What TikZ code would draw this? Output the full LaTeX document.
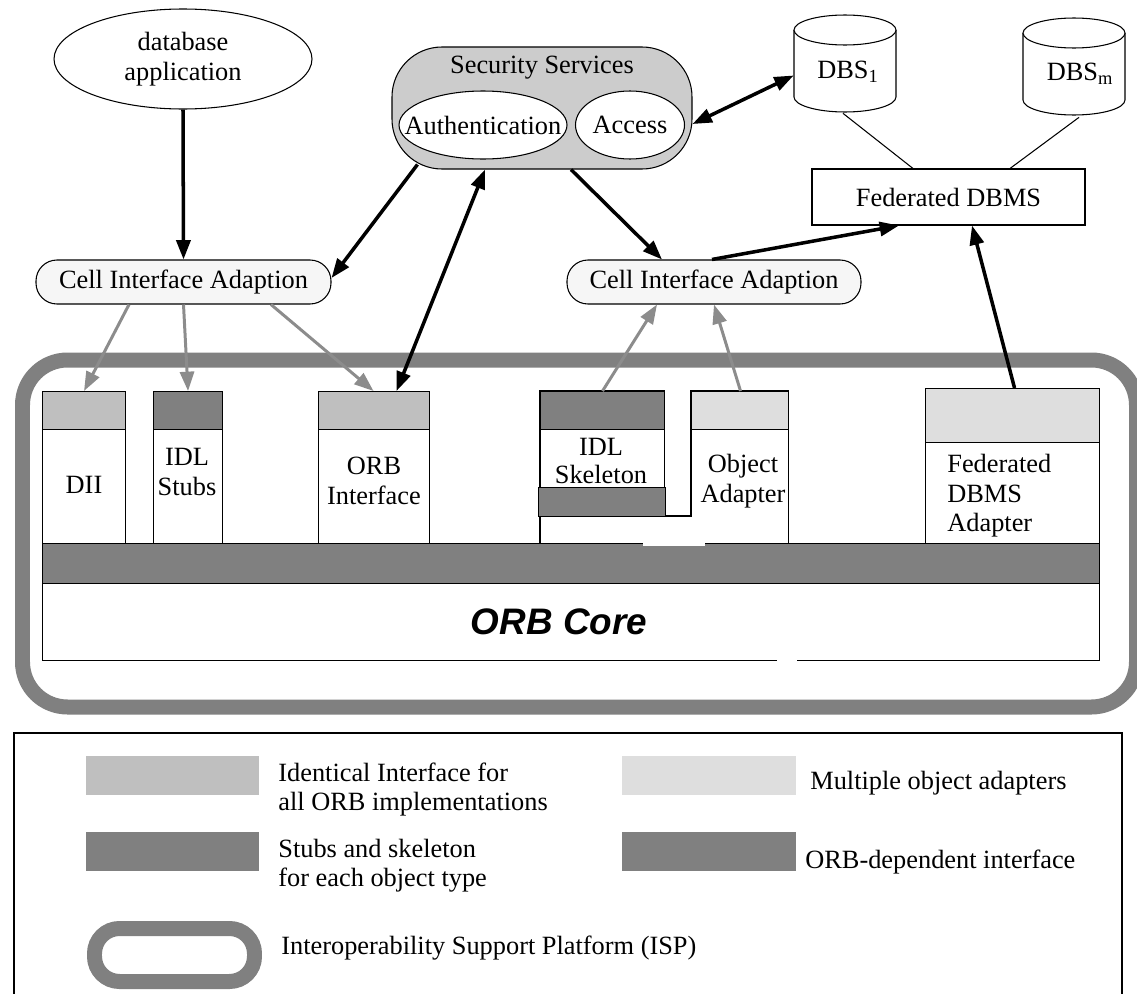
\documentclass[tikz,border=0pt]{standalone}
\usepackage{fontspec}
\setmainfont{Liberation Serif}
\newfontfamily\coresans{Liberation Sans}
\usetikzlibrary{arrows.meta,shapes.geometric}

\definecolor{ifacegray}{gray}{0.75}
\definecolor{depgray}{gray}{0.5}
\definecolor{adaptgray}{gray}{0.87}
\definecolor{secgray}{gray}{0.8}
\definecolor{cellgray}{gray}{0.965}
\definecolor{ispgray}{gray}{0.5}
\definecolor{linkgray}{gray}{0.55}

\begin{document}
\begin{tikzpicture}[x=0.02cm, y=-0.02cm,
  font=\fontsize{15}{17}\selectfont,
  >={Triangle[length=11pt,width=8pt]},
  sz/.style 2 args={minimum width=#1*0.02cm, minimum height=#2*0.02cm, inner sep=0pt},
  part/.style={draw, line width=0.6pt, anchor=north west, inner sep=0pt},
  flow/.style={line width=2pt, ->},
  flowboth/.style={line width=2pt, <->},
  feed/.style={draw=linkgray, line width=1.7pt, ->},
  lbl/.style={align=center, inner sep=0pt},
  legtext/.style={anchor=west, align=left, inner sep=0pt, font=\fontsize{15}{16.5}\selectfont},
  thin/.style={line width=0.6pt}]

\useasboundingbox (0,0) rectangle (1137,994);

% ---------- Interoperability Support Platform frame ----------
\node[draw=ispgray, line width=0.3cm, rounded corners=0.9cm, anchor=north west, sz={1114}{347}] (isp) at (15,352.5) {};

% ---------- ORB components ----------
\node[part, fill=white, sz={83}{152}] (diiB) at (42,391) {};
\node[part, fill=ifacegray, sz={83}{38}] (diiH) at (42,391) {};
\node[part, fill=white, sz={69}{152}] (stubB) at (153,391) {};
\node[part, fill=depgray, sz={69}{38}] (stubH) at (153,391) {};
\node[part, fill=white, sz={111}{152}] (orbiB) at (318,391) {};
\node[part, fill=ifacegray, sz={111}{38}] (orbiH) at (318,391) {};

\node[fill=white, anchor=north west, sz={124}{152}] (skelB) at (540,391) {};
\node[fill=white, anchor=north west, sz={97}{152}] (objB) at (691,391) {};
\draw[thin] (skelB.south west) -- (skelB.north west) -- (skelB.north east)
  -- ([shift={(0,125)}]skelB.north east) -- ([shift={(0,125)}]objB.north west)
  -- (objB.north west) -- (objB.north east) -- (objB.south east);
\node[part, fill=depgray, sz={124}{38}] (skelH) at (540,391) {};
\node[part, fill=depgray, sz={127}{29}] (skelL) at (538,487) {};
\node[part, fill=adaptgray, sz={97}{38}] (objH) at (691,391) {};

\node[part, fill=white, sz={174}{155}] (fedB) at (925,388) {};
\node[part, fill=adaptgray, sz={174}{54}] (fedH) at (925,388) {};

% ORB-dependent band and the core
\node[part, fill=depgray, sz={1057}{40}] (band) at (42,543) {};
\node[part, fill=white, sz={1057}{77}] (core) at (42,583) {};
\fill[white] (643,541.5) rectangle (705,546);
\fill[white] (777,658.5) rectangle (797,661.5);

\node[lbl] (diiT) at (84,485) {DII};
\node[lbl] (stubT) at (187,472) {IDL\\Stubs};
\node[lbl] (orbiT) at (374,481) {ORB\\Interface};
\node[lbl, font=\fontsize{15}{16}\selectfont] (skelT) at (601,461) {IDL\\Skeleton};
\node[lbl] (objT) at (743,481) {Object\\Adapter};
\node[legtext, font=\fontsize{15}{16.8}\selectfont] (fedT) at (947,496) {Federated\\DBMS\\Adapter};
\node[inner sep=0pt, font=\coresans\bfseries\itshape\fontsize{21}{24}\selectfont] (coreT) at (559,622) {ORB Core};

% ---------- upper part ----------
\node[ellipse, draw, thin, sz={258}{100}, align=center] (dbapp) at (183,59) {database\\application};
\node[draw, thin, fill=cellgray, rounded corners=0.42cm, sz={295}{44}] (cellL) at (183.5,282) {Cell Interface Adaption};

\node[draw, thin, fill=secgray, rounded corners=1cm, sz={300}{122}] (sec) at (542,108) {};
\node[lbl] (secT) at (542,68) {Security Services};
\node[ellipse, draw, thin, fill=white, sz={168}{68}] (auth) at (483,125) {\makebox[0pt]{Authentication}};
\node[ellipse, draw, thin, fill=white, sz={109}{68}] (acc) at (630,125) {Access};

% database systems (cylinders)
\node[sz={102}{97}] (dbs1) at (845,63.5) {};
\draw[thin, fill=white] (794,30) -- (794,97) arc[start angle=180, end angle=360, x radius=1.02cm, y radius=0.3cm] -- (896,30);
\draw[thin, fill=white] (845,30) ellipse [x radius=1.02cm, y radius=0.3cm];
\node[lbl] (dbs1T) at (848,72) {DBS\textsubscript{1}};

\node[sz={102}{97}] (dbsm) at (1074,66.5) {};
\draw[thin, fill=white] (1023,33) -- (1023,100) arc[start angle=180, end angle=360, x radius=1.02cm, y radius=0.3cm] -- (1125,33);
\draw[thin, fill=white] (1074,33) ellipse [x radius=1.02cm, y radius=0.3cm];
\node[lbl] (dbsmT) at (1080,74) {DBS\textsubscript{m}};

\node[draw, thin, sz={273}{56}] (fed) at (948.5,197) {Federated DBMS};
\node[draw, thin, fill=cellgray, rounded corners=0.42cm, sz={294}{44}] (cellR) at (714,282) {Cell Interface Adaption};

\draw[thin] ([shift={(-2,1)}]dbs1.south) -- ([shift={(-35.5,0)}]fed.north);
\draw[thin] ([shift={(5,2)}]dbsm.south) -- ([shift={(61.5,0)}]fed.north);

% ---------- connectors ----------
\draw[flow] (dbapp.south) -- (cellL.north);
\draw[flow] ([shift={(26,-5)}]sec.south west) -- ([shift={(0,-4)}]cellL.east);
\draw[flowboth] ([shift={(22.5,0)}]orbiH.north) -- ([shift={(-57,0)}]sec.south);
\draw[flow] ([shift={(29,0)}]sec.south) -- ([shift={(-52,0)}]cellR.north);
\draw[flowboth] ([shift={(0,16)}]sec.east) -- ([shift={(0,12)}]dbs1.west);
\draw[flow] ([shift={(-2,0)}]cellR.north) -- ([shift={(-49.5,0)}]fed.south);
\draw[flow] ([shift={(2,0)}]fedH.north) -- ([shift={(23.5,0)}]fed.south);

\draw[feed] ([shift={(-54.5,0)}]cellL.south) -- (diiH.north);
\draw[feed] (cellL.south) -- (stubH.north);
\draw[feed] ([shift={(87.5,0)}]cellL.south) -- ([shift={(-0.5,0)}]orbiH.north);
\draw[feed] (skelH.north) -- ([shift={(-57,0)}]cellR.south);
\draw[feed] ([shift={(0.5,0)}]objH.north) -- (cellR.south);

% ---------- legend ----------
\draw[line width=0.8pt] (14,1000) -- (14,733) -- (1122,733) -- (1122,1000);
\node[fill=ifacegray, anchor=north west, sz={173}{39}] (swA) at (86,756) {};
\node[fill=adaptgray, anchor=north west, sz={174}{39}] (swB) at (622,756) {};
\node[fill=depgray, anchor=north west, sz={173}{39}] (swC) at (86,832) {};
\node[fill=depgray, anchor=north west, sz={174}{39}] (swD) at (622,832) {};
\node[draw=ispgray, line width=0.3cm, rounded corners=0.5cm, anchor=north west, sz={160}{53}] (swE) at (87,921) {};

\node[legtext] (tA) at (278,790) {Identical Interface for\\all ORB implementations};
\node[legtext] (tB) at (810,783) {Multiple object adapters};
\node[legtext] (tC) at (278,866) {Stubs and skeleton\\for each object type};
\node[legtext] (tD) at (805,862) {ORB-dependent interface};
\node[legtext] (tE) at (281,948) {Interoperability Support Platform (ISP)};
\end{tikzpicture}
\end{document}
